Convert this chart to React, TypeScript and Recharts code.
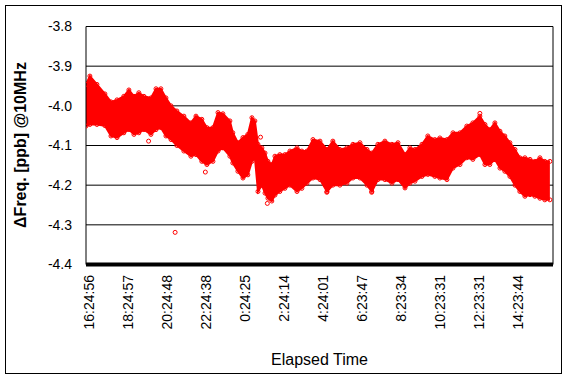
import {
  Area,
  CartesianGrid,
  ComposedChart,
  ReferenceLine,
  Scatter,
  XAxis,
  YAxis,
} from "recharts";

// elapsed hours since first sample, with the upper / lower edge of the scatter band
const hours = [
  -0.15, 0.05, 0.41, 0.82, 1.13, 1.44, 1.79, 2.05, 2.31, 2.56, 2.82, 3.18, 3.44,
  3.69, 3.95, 4.21, 4.51, 4.87, 5.23, 5.49, 5.79, 6.05, 6.36, 6.62, 6.87, 7.23,
  7.38, 7.64, 7.9, 8.15, 8.36, 8.51, 8.67, 8.87, 9.03, 9.18, 9.38, 9.54, 9.79,
  10.05, 10.31, 10.67, 10.92, 11.18, 11.49, 11.85, 12.21, 12.51, 12.87, 13.23,
  13.54, 13.9, 14.26, 14.51, 14.82, 15.18, 15.54, 15.85, 16.21, 16.46, 16.72,
  17.08, 17.38, 17.74, 18.0, 18.36, 18.67, 19.03, 19.38, 19.69, 20.05, 20.31,
  20.56, 20.82, 21.08, 21.33, 21.59, 21.85, 22.1, 22.36, 22.62, 22.87, 23.13,
  23.38, 23.64,
];

const upper = [
  -3.946, -3.925, -3.946, -3.97, -3.99, -3.985, -3.976, -3.96, -3.976, -3.967,
  -3.976, -3.98, -3.957, -3.957, -3.98, -4.0, -4.013, -4.026, -4.043, -4.026,
  -4.034, -4.055, -4.055, -4.017, -4.02, -4.038, -4.068, -4.093, -4.08, -4.072,
  -4.03, -4.038, -4.097, -4.106, -4.119, -4.14, -4.148, -4.127, -4.123, -4.123,
  -4.114, -4.106, -4.114, -4.114, -4.085, -4.089, -4.11, -4.089, -4.11, -4.106,
  -4.097, -4.093, -4.11, -4.119, -4.097, -4.089, -4.097, -4.093, -4.123, -4.106,
  -4.11, -4.097, -4.076, -4.085, -4.081, -4.085, -4.068, -4.068, -4.051, -4.043,
  -4.026, -4.047, -4.06, -4.043, -4.064, -4.076, -4.093, -4.11, -4.131, -4.131,
  -4.135, -4.14, -4.131, -4.14, -4.14,
];

const lower = [
  -4.051, -4.047, -4.047, -4.05, -4.076, -4.08, -4.068, -4.06, -4.072, -4.068,
  -4.06, -4.072, -4.06, -4.055, -4.076, -4.085, -4.1, -4.114, -4.127, -4.123,
  -4.14, -4.148, -4.14, -4.114, -4.106, -4.127, -4.144, -4.165, -4.182, -4.174,
  -4.14, -4.13, -4.216, -4.2, -4.22, -4.233, -4.24, -4.225, -4.216, -4.208,
  -4.2, -4.216, -4.208, -4.195, -4.182, -4.186, -4.216, -4.2, -4.2, -4.195,
  -4.182, -4.182, -4.2, -4.216, -4.186, -4.186, -4.195, -4.186, -4.207, -4.195,
  -4.19, -4.178, -4.173, -4.178, -4.182, -4.186, -4.157, -4.148, -4.131, -4.135,
  -4.123, -4.148, -4.148, -4.135, -4.157, -4.165, -4.178, -4.2, -4.216, -4.228,
  -4.224, -4.228, -4.233, -4.237, -4.237,
];

// stray samples outside the band
const outlierHours = [3.06, 4.42, 5.97, 8.8, 9.15, 12.2, 14.5, 20.05];
const outlierValues = [-4.089, -4.319, -4.167, -4.079, -4.246, -4.218, -4.218, -4.019];

const tickLabels = [
  "16:24:56", "18:24:57", "20:24:48", "22:24:38", "0:24:25", "2:24:14",
  "4:24:01", "6:23:47", "8:23:34", "10:23:31", "12:23:31", "14:23:44",
];
const yTicks = [-4.4, -4.3, -4.2, -4.1, -4.0, -3.9, -3.8];

const rows = hours.map((h, i) => ({
  h,
  hi: upper[i],
  lo: lower[i],
  band: [lower[i], upper[i]],
}));
const outliers = outlierHours.map((h, i) => ({ h, v: outlierValues[i] }));
const xTicks = tickLabels.map((_, i) => i * 2);

const FONT = "'Liberation Sans', Arial, sans-serif";
const RED = "#ff0000";

const ring = (p: any) => (
  <circle cx={p.cx} cy={p.cy} r={2} fill="none" stroke={RED} strokeWidth={1} />
);

function TimeTick({ x, y, payload }: any) {
  const label = tickLabels[Math.round(payload.value / 2)];
  const ty = y + 10.5;
  return (
    <text
      x={x}
      y={ty}
      dy="0.36em"
      transform={`rotate(-90 ${x} ${ty})`}
      textAnchor="end"
      fontSize={14}
      fontFamily={FONT}
      fill="#000"
    >
      {label}
    </text>
  );
}

export default function App() {
  return (
    <div
      style={{
        position: "absolute",
        left: 5,
        top: 5,
        width: 557,
        height: 369,
        boxSizing: "border-box",
        border: "1px solid #000",
        background: "#fff",
      }}
    >
      <ComposedChart
        width={555}
        height={366}
        data={rows}
        margin={{ top: 20.5, right: 8, left: 0, bottom: 0 }}
      >
        <CartesianGrid vertical={false} stroke="#000" strokeWidth={1} />
        <XAxis
          dataKey="h"
          type="number"
          domain={[-0.15, 23.8]}
          ticks={xTicks}
          interval={0}
          height={107.5}
          tickLine={false}
          tickSize={0}
          tickMargin={0}
          tick={<TimeTick />}
          axisLine={{ stroke: "#000", strokeWidth: 4 }}
          allowDataOverflow
          label={{
            content: () => (
              <text
                x={313.5}
                y={359}
                textAnchor="middle"
                fontSize={16}
                fontFamily={FONT}
                fill="#000"
              >
                Elapsed Time
              </text>
            ),
          }}
        />
        <YAxis
          type="number"
          domain={[-4.4, -3.8]}
          ticks={yTicks}
          width={80}
          tickLine={false}
          tickSize={0}
          tickMargin={14}
          tickFormatter={(v: number) => v.toFixed(1)}
          tick={{ fontSize: 14, fontFamily: FONT, fill: "#000" }}
          axisLine={{ stroke: "#000", strokeWidth: 1 }}
          label={{
            content: () => (
              <text
                x={19.5}
                y={139}
                transform="rotate(-90 19.5 139)"
                textAnchor="middle"
                fontSize={16}
                fontWeight="bold"
                fontFamily={FONT}
                fill="#000"
              >
                ΔFreq. [ppb] @10MHz
              </text>
            ),
          }}
        />
        <ReferenceLine x={23.8} stroke="#000" strokeWidth={1} />
        <Area
          type="linear"
          dataKey="band"
          stroke={RED}
          strokeWidth={2}
          fill={RED}
          fillOpacity={1}
          isAnimationActive={false}
        />
        <Scatter dataKey="hi" shape={ring} isAnimationActive={false} />
        <Scatter dataKey="lo" shape={ring} isAnimationActive={false} />
        <Scatter data={outliers} dataKey="v" shape={ring} isAnimationActive={false} />
      </ComposedChart>
    </div>
  );
}
